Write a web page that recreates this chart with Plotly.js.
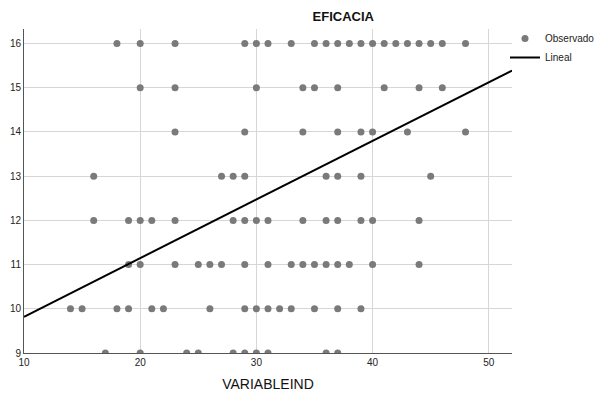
<!DOCTYPE html>
<html>
<head>
<meta charset="utf-8">
<script src="https://cdn.plot.ly/plotly-3.0.1.min.js"></script>
<style>html,body{margin:0;padding:0;background:#fff;}#chart{width:596px;height:394px;}</style>
</head>
<body>
<div id="chart"></div>
<script>
// Observed points: x values (VARIABLEIND) for each EFICACIA level
const row16 = [18,20,23,29,30,31,33,35,36,37,38,39,40,41,42,43,44,45,46,48];
const row15 = [20,23,30,34,35,37,41,44,46];
const row14 = [23,29,34,37,39,40,43,48];
const row13 = [16,27,28,29,36,37,39,45];
const row12 = [16,19,20,21,23,28,29,30,31,34,36,37,39,40,44];
const row11 = [19,20,23,25,26,27,29,31,33,34,35,36,37,38,40,44];
const row10 = [14,15,18,19,21,22,26,29,30,31,32,33,35,37,39];
const row9  = [17,20,24,25,28,29,30,31,36,37];
const levels = [16,15,14,13,12,11,10,9];
const rows = [row16,row15,row14,row13,row12,row11,row10,row9];

// Linear fit line endpoints
const lineX = [10, 52];
const lineY = [9.82, 15.39];

const obsX = [], obsY = [];
rows.forEach((r,i)=>{ r.forEach(v=>{ obsX.push(v); obsY.push(levels[i]); }); });

const font = "Arial, 'Liberation Sans', sans-serif";
const data = [
  {x: obsX, y: obsY, type:'scatter', mode:'markers', name:'Observado',
   marker:{color:'#7a7a7a', size:7}, cliponaxis:true},
  {x: lineX, y: lineY, type:'scatter', mode:'lines', name:'Lineal',
   line:{color:'#000', width:2}}
];
const layout = {
  width:596, height:394,
  margin:{l:24, r:84, t:29, b:41, autoexpand:false},
  paper_bgcolor:'#fff', plot_bgcolor:'#fff',
  font:{family:font, size:10, color:'#222'},
  title:{text:'EFICACIA', font:{family:font, size:13, color:'#111', weight:'bold'},
         xref:'container', x:0.576, xanchor:'center', yref:'container', y:0.958, yanchor:'middle'},
  xaxis:{range:[10,52], tickvals:[10,20,30,40,50], showgrid:true, gridcolor:'#d6d6d6', gridwidth:1,
         zeroline:false, showline:true, linecolor:'#555', linewidth:1, ticks:'', ticklen:0,
         tickfont:{size:10, color:'#222'},
         title:{text:'VARIABLEIND', font:{size:14, color:'#111'}, standoff:12}},
  yaxis:{range:[9,16.33], tickvals:[9,10,11,12,13,14,15,16], showgrid:true, gridcolor:'#d6d6d6', gridwidth:1,
         zeroline:false, showline:true, linecolor:'#555', linewidth:1, ticks:'', ticklen:0,
         tickfont:{size:10, color:'#222'}},
  showlegend:true,
  legend:{xref:'container', yref:'container', x:505/596, xanchor:'left', y:1-24/394, yanchor:'top',
          font:{size:10, color:'#222'}, bgcolor:'rgba(0,0,0,0)', itemwidth:30, tracegroupgap:0}
};
Plotly.newPlot('chart', data, layout, {displayModeBar:false, staticPlot:true});
</script>
</body>
</html>
